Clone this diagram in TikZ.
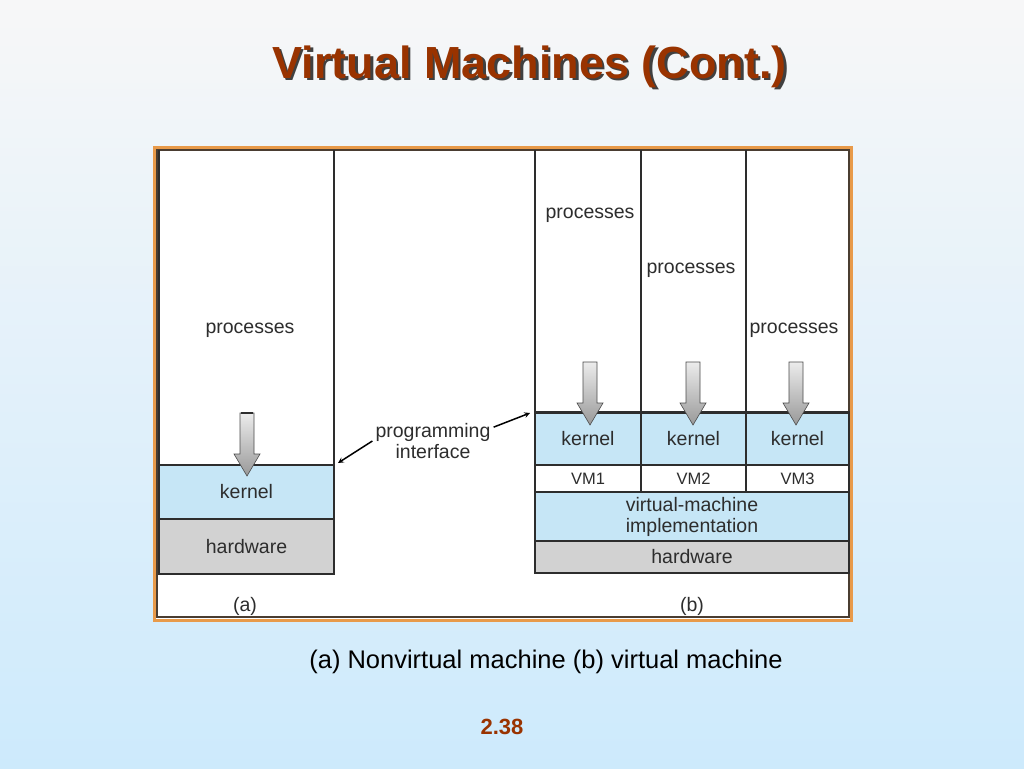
\documentclass[tikz,border=0pt]{standalone}
\usepackage{fontspec}
\setmainfont{Liberation Sans}
\usepackage{tikz}
\usetikzlibrary{positioning}
\definecolor{titlered}{RGB}{153,51,0}
\definecolor{kblue}{RGB}{198,230,246}
\definecolor{hwgray}{RGB}{210,210,210}
\definecolor{frameorange}{RGB}{232,154,74}
\definecolor{inkgray}{RGB}{45,45,45}
\definecolor{bgtop}{RGB}{247,247,248}
\definecolor{bgbottom}{RGB}{205,234,252}
\tikzset{
    lbl/.style={text=inkgray, inner sep=0pt, font=\fontsize{19.5}{21}\selectfont},
    band/.style={lbl, draw=inkgray, line width=1.2pt, outer sep=0pt, minimum height=#1},
    boxline/.style={draw=inkgray, line width=1.2pt},
    parrow/.style={top color=gray!15, bottom color=gray!80, draw=gray!60!black, line width=0.6pt}
}
\newcommand{\shadowtext}[1]{\makebox[0pt][l]{\hspace{2.5pt}\raisebox{-2.5pt}{\color{black!75}#1}}#1}

\begin{document}
\begin{tikzpicture}[x=1pt, y=-1pt, node distance=0pt, >=stealth]
    \useasboundingbox (0,0) rectangle (1024,768);
    \shade[top color=bgtop, bottom color=bgbottom] (0,0) rectangle (1024,768);
    % Title
    \node[font=\bfseries\fontsize{45}{50}\selectfont, text=titlered, anchor=base] (title) at (529.5,78) {\shadowtext{Virtual Machines (Cont.)}};
    % Frame
    \draw[frameorange, line width=3pt, fill=white] (154,147) rectangle (851,620);
    \draw[inkgray!80!brown, line width=1.5pt] (157,150) rectangle (849,617);
    % Define nodes (a)
    \draw[boxline] (159,150) -- (159,465);
    \draw[boxline] (334,150) -- (334,465);
    \node[band=54, minimum width=175, fill=kblue] (ka) at (246.5,492) {kernel};
    \node[band=55, minimum width=175, fill=hwgray, below=of ka] (ha) {hardware};
    \node[lbl] (pa) at (250,330) {processes};
    \node[lbl] (la) at (245,606) {(a)};
    % Define nodes (b)
    \foreach \x in {535,641,746}
        \draw[boxline] (\x,150) -- (\x,412);
    \foreach \i/\x/\w in {1/588/106, 2/693.5/105, 3/797.5/103} {
        \node[band=53, minimum width=\w, fill=kblue] (k\i) at (\x,438.5) {kernel};
        \node[band=27, minimum width=\w, fill=white, below=of k\i, font=\fontsize{16.5}{18}\selectfont] (vm\i) {VM\i};
    }
    \draw[inkgray, line width=3pt] (k1.north west) -- (k3.north east);
    \node[band=49, minimum width=314, fill=kblue, align=center, anchor=north west] (vmi) at (vm1.south west) {virtual-machine\\implementation};
    \node[band=32, minimum width=314, fill=hwgray, below=of vmi] (hb) {hardware};
    \node[lbl] (p1) at (590,215) {processes};
    \node[lbl] (p2) at (691,270) {processes};
    \node[lbl] (p3) at (794,330) {processes};
    \node[lbl] (lb) at (692,606) {(b)};
    % Process arrows
    \foreach \x/\y in {247/413, 590/362, 693/362, 796/362}
        \path[parrow] (\x-7,\y) -- (\x+7,\y) -- (\x+7,\y+41) -- (\x+13,\y+41)
            -- (\x,\y+63) -- (\x-13,\y+41) -- (\x-7,\y+41) -- cycle;
    \draw[inkgray, line width=1.5pt] (241,413) -- (253,413);
    % Programming interface
    \node[lbl, align=center] (pi) at (433,441) {programming\\interface};
    \draw[->, line width=1.5pt] ([xshift=-3pt]pi.west) -- ([xshift=4pt,yshift=2pt]ka.north east);
    \draw[->, line width=1.5pt] ([xshift=3pt,yshift=-4pt]pi.north east) -- ([xshift=-5pt,yshift=-1pt]k1.north west);
    % Caption
    \node[font=\fontsize{25.5}{28}\selectfont] (cap) at (546,662) {(a) Nonvirtual machine (b) virtual machine};
    \node[font=\bfseries\fontsize{22}{24}\selectfont, text=titlered] (pnum) at (502,727) {2.38};
\end{tikzpicture}
\end{document}
